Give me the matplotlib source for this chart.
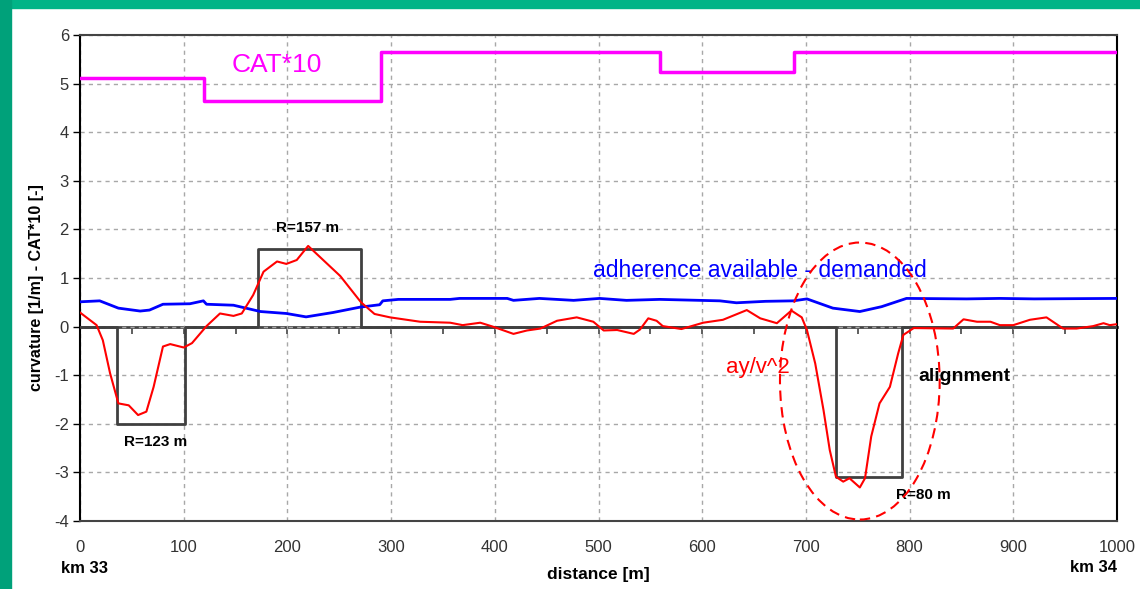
import matplotlib

matplotlib.use("Agg")
import matplotlib.pyplot as plt
from matplotlib.patches import Ellipse, Rectangle

plt.rcParams["font.family"] = ["Liberation Sans", "DejaVu Sans"]
plt.rcParams["axes.unicode_minus"] = False

# distance [m] and values
red_x = [0, 16, 22, 29, 37, 47, 56, 64, 71, 80, 87, 100, 108, 122, 135, 148, 156, 167, 177, 190,
         199, 209, 220, 231, 251, 271, 284, 299, 328, 357, 369, 386, 398, 418, 431, 444, 460, 479, 495, 505,
         518, 534, 540, 548, 556, 562, 580, 601, 620, 643, 656, 672, 686, 696, 701, 709, 717, 723, 729, 736,
         742, 752, 757, 763, 771, 781, 789, 794, 804, 842, 852, 865, 878, 887, 900, 916, 932, 948, 961, 977,
         987, 993, 1000]
red_y = [0.29, 0.03, -0.28, -0.96, -1.58, -1.62, -1.82, -1.75, -1.24, -0.41, -0.36, -0.43, -0.34, 0.01, 0.27, 0.22, 0.27, 0.65, 1.13, 1.34,
         1.29, 1.37, 1.66, 1.44, 1.04, 0.5, 0.26, 0.19, 0.1, 0.08, 0.03, 0.08, 0.0, -0.15, -0.08, -0.04, 0.12, 0.19, 0.1, -0.08,
         -0.07, -0.15, -0.06, 0.17, 0.12, 0.01, -0.05, 0.08, 0.14, 0.34, 0.17, 0.07, 0.33, 0.19, -0.07, -0.76, -1.72, -2.54, -3.09, -3.19,
         -3.12, -3.31, -3.12, -2.26, -1.58, -1.24, -0.55, -0.17, -0.03, -0.04, 0.15, 0.1, 0.1, 0.03, 0.03, 0.14, 0.19, -0.04, -0.04, 0.01,
         0.07, 0.03, 0.05]

blue_x = [0, 19, 37, 58, 67, 80, 106, 119, 122, 148, 174, 199, 218, 244, 270, 289, 292, 307, 357, 366,
          412, 418, 443, 476, 501, 527, 559, 617, 633, 661, 688, 701, 726, 752, 773, 797, 855, 887, 920, 1000]
blue_y = [0.51, 0.53, 0.38, 0.32, 0.34, 0.46, 0.47, 0.53, 0.46, 0.44, 0.31, 0.27, 0.2, 0.29, 0.4, 0.45, 0.53, 0.56, 0.56, 0.58,
          0.58, 0.54, 0.58, 0.54, 0.58, 0.54, 0.56, 0.53, 0.49, 0.52, 0.53, 0.57, 0.38, 0.31, 0.41, 0.58, 0.57, 0.58, 0.57, 0.58]

align_x = [0, 36, 101, 172, 271, 729, 793, 1000]
align_y = [0, -2.0, 0, 1.6, 0, -3.1, 0, 0]
radii = ["R=123 m", "R=157 m", "R=80 m"]

cat_x = [0, 120, 290, 559, 689, 1000]
cat_y = [5.11, 4.64, 5.66, 5.24, 5.66, 5.66]

x_ticks = list(range(0, 1001, 100))
y_ticks = list(range(-4, 7))

fig = plt.figure(figsize=(11.4, 5.89), dpi=100)
fig.patches.append(Rectangle((0, 1 - 8 / 589), 1, 8 / 589, transform=fig.transFigure,
                             color="#00b487", zorder=0))
fig.patches.append(Rectangle((0, 0), 11 / 1140, 1, transform=fig.transFigure,
                             color="#00a17a", zorder=0))

ax = fig.add_axes([80 / 1140, 1 - 521 / 589, 1037 / 1140, 486 / 589])
ax.set_xlim(0, 1000)
ax.set_ylim(-4, 6)
ax.set_xticks(x_ticks)
ax.set_yticks(y_ticks)
ax.tick_params(axis="x", length=0, pad=14, labelsize=12, labelcolor="#333333")
ax.tick_params(axis="y", length=5, width=1, direction="out", labelsize=12,
               labelcolor="#333333", pad=3)
ax.grid(True, color="#a8a8a8", lw=1, ls=(0, (3, 3)))
for side in ["left", "right"]:
    ax.spines[side].set_color("black")
    ax.spines[side].set_linewidth(1.5)
for side in ["top", "bottom"]:
    ax.spines[side].set_color("#444444")
    ax.spines[side].set_linewidth(1.5)

# horizontal axis line crossing at zero with ticks every 50 m
sec = ax.secondary_xaxis(0.4)
sec.set_xticks(list(range(0, 1001, 50)))
sec.set_xticklabels([])
sec.tick_params(length=5, width=1.2, color="#444444")
sec.spines["bottom"].set_color("#444444")
sec.spines["bottom"].set_linewidth(2)

ax.plot(align_x, align_y, drawstyle="steps-post", color="#404040", lw=2, zorder=3)
ax.plot(cat_x, cat_y, drawstyle="steps-post", color="#ff00ff", lw=2.5, zorder=3)
ax.plot(blue_x, blue_y, color="#0000ff", lw=2, zorder=4)
ax.plot(red_x, red_y, color="#ff0000", lw=1.5, zorder=5)

ax.add_patch(Ellipse((752, -1.12), 154, 5.7, fill=False, ec="#ff0000", lw=1.5,
                     ls=(0, (5, 3)), zorder=6))

ax.text(146, 5.38, "CAT*10", color="#ff00ff", fontsize=19, va="center", ha="left")
ax.text(495, 1.16, "adherence available - demanded", color="#0000ff", fontsize=16.5,
        va="center", ha="left")
ax.text(623, -0.85, "ay/v^2", color="#ff0000", fontsize=16, va="center", ha="left")
ax.text(808, -1.02, "alignment", color="black", fontsize=14, weight="bold",
        va="center", ha="left")
ax.text(73, -2.37, radii[0], fontsize=11, weight="bold", va="center", ha="center")
ax.text(219, 2.03, radii[1], fontsize=11, weight="bold", va="center", ha="center")
ax.text(813, -3.47, radii[2], fontsize=11, weight="bold", va="center", ha="center")

ax.set_ylabel("curvature [1/m] - CAT*10 [-]", fontsize=11.5, weight="bold")
ax.yaxis.set_label_coords(-0.0345, 0.481)
ax.set_xlabel("distance [m]", fontsize=12.5, weight="bold")
ax.xaxis.set_label_coords(0.5, -0.095)
ax.text(-19 / 1037, -0.097, "km 33", transform=ax.transAxes, fontsize=12, weight="bold",
        va="center", ha="left")
ax.text(1.0, -0.095, "km 34", transform=ax.transAxes, fontsize=12, weight="bold",
        va="center", ha="right")

fig.savefig("out.png", dpi=100)
